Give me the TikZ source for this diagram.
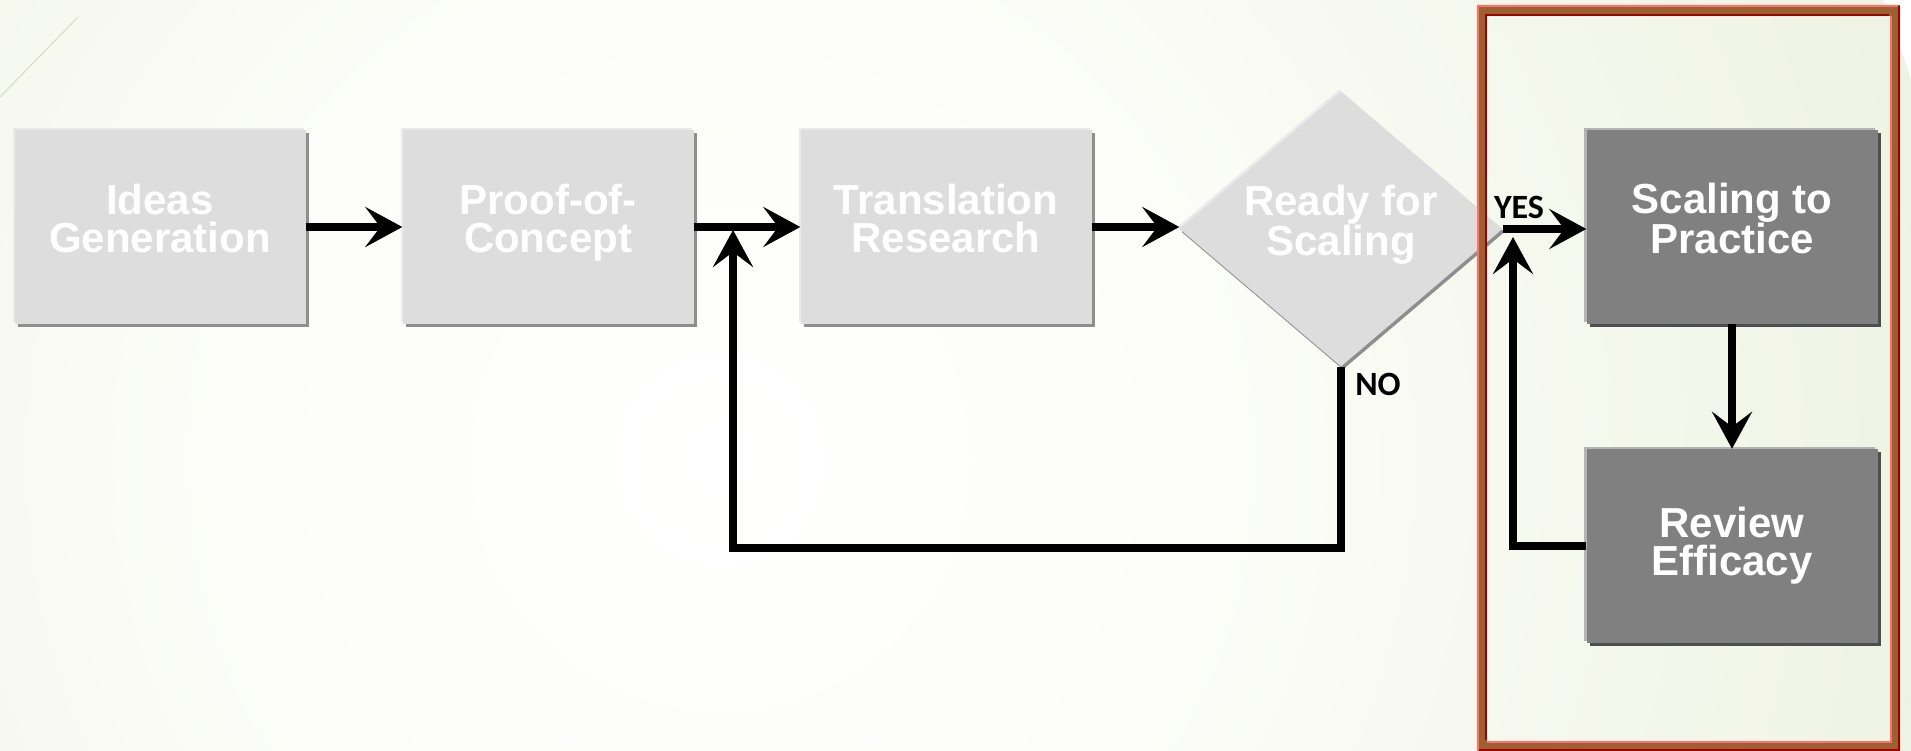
\documentclass[tikz,border=0pt]{standalone}
\usepackage{fontspec}
\setmainfont{Liberation Sans}
\newfontfamily\labelfont{Carlito}
\usetikzlibrary{arrows.meta,shapes.geometric,shadows}

\definecolor{bgsoft}{HTML}{FCFDF8}
\definecolor{bgpale}{HTML}{F3F6EA}
\definecolor{bgmid}{HTML}{EAF0DB}
\definecolor{bgtint}{HTML}{E2EACC}
\definecolor{bgdeep}{HTML}{D8E4BA}
\definecolor{boxlight}{HTML}{DDDDDD}
\definecolor{boxlightedge}{HTML}{EAEAEA}
\definecolor{boxlightshade}{HTML}{8E8E8E}
\definecolor{boxdark}{HTML}{808080}
\definecolor{boxdarkedge}{HTML}{B4B4B4}
\definecolor{boxdarkshade}{HTML}{4E4E4E}
\definecolor{framebrown}{HTML}{9C6130}
\definecolor{framelight}{HTML}{FF7070}
\definecolor{framedark}{HTML}{A00000}
\definecolor{decoline}{HTML}{D3DBBE}

\pgfdeclareradialshading{bgglow}{\pgfpointorigin}{%
  color(0bp)=(white); color(10bp)=(bgsoft); color(20bp)=(bgpale);
  color(30bp)=(bgmid); color(40bp)=(bgtint); color(50bp)=(bgdeep)}

% extra depth under the last line, so the lines sit a little above centre
\newcommand\liftlines{\rule[-17pt]{0pt}{17pt}}

\tikzset{
  boxtext/.style={text=white, align=center, inner sep=0pt,
    font=\bfseries\fontsize{42}{38}\selectfont},
  lightbox/.style={boxtext, rectangle, fill=boxlight,
    minimum width=291pt, minimum height=194pt,
    general shadow={fill=boxlightedge, shadow xshift=-2pt, shadow yshift=2pt},
    general shadow={fill=boxlightshade, shadow xshift=3pt, shadow yshift=-3pt}},
  darkbox/.style={boxtext, rectangle, fill=boxdark,
    minimum width=291pt, minimum height=194pt,
    general shadow={fill=boxdarkedge, shadow xshift=-3pt, shadow yshift=2pt},
    general shadow={fill=boxdarkshade, shadow xshift=3pt, shadow yshift=-3pt}},
  decision/.style={boxtext, diamond, aspect=1.17, fill=boxlight,
    minimum width=323pt, minimum height=275pt,
    general shadow={fill=boxlightedge, shadow xshift=-2pt, shadow yshift=2pt},
    general shadow={fill=boxlightshade, shadow xshift=2pt, shadow yshift=-3pt}},
  flow/.style={line width=8pt, draw=black,
    -{Stealth[length=37pt, width=40pt, inset=15pt]}},
  answer/.style={inner sep=0pt, text=black,
    font=\labelfont\bfseries\fontsize{34}{34}\selectfont},
}

\begin{document}
\begin{tikzpicture}[x=1pt, y=-1pt]
  % page and soft background glow
  \useasboundingbox (0,0) rectangle (1911,751);
  \begin{scope}
    \clip (0,0) rectangle (1911,751);
    \shade[shading=bgglow] (720,460) circle (1250);
  \end{scope}
  \draw[decoline, line width=1pt] (0,97) -- (78,17);

  % process steps
  \node[lightbox] (ideas) at (160,227) {Ideas\\Generation\liftlines};
  \node[lightbox] (proof) at (548,227) {Proof-of-\\Concept\liftlines};
  \node[lightbox] (trans) at (946,227) {Translation\\Research\liftlines};
  \node[decision] (ready) at (1341,229) {Ready for\\Scaling\liftlines};
  \node[darkbox] (scale) at (1732,227) {Scaling to\\Practice\liftlines};
  \node[darkbox] (review) at (1732,546) {Review\\Efficacy};

  % bevelled frame around the scaling stage
  \begin{scope}
    \clip (0,0) rectangle (1911,751);
    \fill[framebrown, even odd rule]
      (1477,5) rectangle (1900,760) (1487,16) rectangle (1890,741);
    \draw[framelight, line width=2pt] (1478,760) -- (1478,6) -- (1898,6);
    \draw[framedark, line width=2pt] (1486,740) -- (1486,15) -- (1889,15);
    \draw[framelight, line width=2pt] (1487,742) -- (1891,742) -- (1891,16);
    \draw[framedark, line width=2pt] (1479,750) -- (1899,750) -- (1899,6);
  \end{scope}

  % connectors
  \coordinate (merge) at (733,230);
  \coordinate (recheck) at (1513,237);
  \draw[flow] (ideas.east) -- (proof.west);
  \draw[flow] (proof.east) -- (trans.west);
  \draw[flow] (trans.east) -- (trans.east -| ready.west);
  \draw[flow] (ready.south) -- (ready.south |- 0,548) -| (merge);
  \draw[flow] (ready.east) -- (ready.east -| scale.west);
  \draw[flow] (scale.south) -- (review.north);
  \draw[flow] (review.west) -| (recheck);

  % branch labels
  \node[answer] (yes) at (1519,207) {YES};
  \node[answer] (no) at (1378,384) {NO};
\end{tikzpicture}
\end{document}
